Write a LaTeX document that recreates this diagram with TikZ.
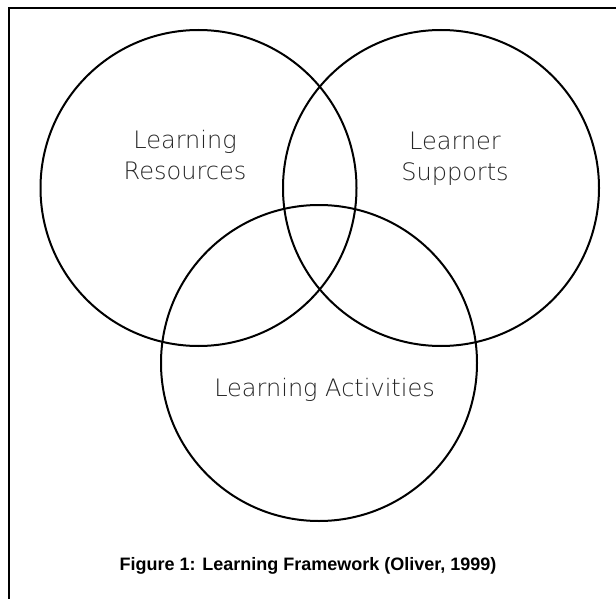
\documentclass[tikz,border=0pt]{standalone}
\usepackage{fontspec}
\setmainfont{Liberation Sans}
\newfontfamily\labelfont{DejaVu Sans ExtraLight}
\begin{document}
\begin{tikzpicture}[x=1pt,y=1pt,
  ring/.style={circle, draw=black, line width=2pt, minimum size=316pt,
    inner sep=0pt, outer sep=0pt},
  setlabel/.style={align=center, inner sep=0pt, text=black!85,
    font=\labelfont\fontsize{24}{31}\selectfont},
  captiontext/.style={inner sep=0pt, font=\bfseries\fontsize{18}{22}\selectfont}]
\useasboundingbox (0,0) rectangle (616,-599);
\fill[white] (0,0) rectangle (616,-599);
% outer frame (right and bottom edges run off the page)
\draw[line width=2pt] (9,-640) |- (640,-8);

% the three overlapping sets
\node[ring] (resources)  at (198.5,-188) {};
\node[ring] (supports)   at (441,-188) {};
\node[ring] (activities) at (319,-363) {};

% set names (base = baseline of the last line)
\node[setlabel, anchor=base] (resLabel) at (185,-179) {Learning\\Resources};
\node[setlabel, anchor=base] (supLabel) at (455,-180) {Learner\\Supports};
\node[setlabel, anchor=base] (actLabel) at (324.5,-396) {Learning Activities};

% caption
\node[captiontext, anchor=base] (caption) at (308,-570)
  {Figure 1: Learning Framework (Oliver, 1999)};
\end{tikzpicture}
\end{document}
